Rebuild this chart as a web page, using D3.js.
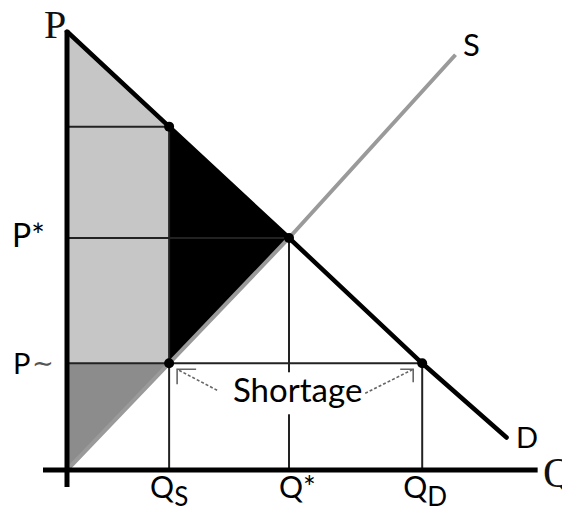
<!DOCTYPE html>
<html>
<head>
<meta charset="utf-8">
<script src="https://cdn.jsdelivr.net/npm/d3@7"></script>
<style>
  body { margin: 0; background: #fff; }
  svg { display: block; }
  .lbl { font-family: Lato, "Open Sans", sans-serif; fill: #000; }
  .serif { font-family: "Liberation Serif", "DejaVu Serif", serif; fill: #111; }
</style>
</head>
<body>
<div id="chart"></div>
<script>
// quantities and prices (arbitrary units 0..10)
var qS = 2.3, qStar = 5, qD = 8;
var pCeil = 2.3, pStar = 5, pDemandAtQs = 7.4, pMax = 9.45;

var demand = [[0, 9.45], [2.3, 7.4], [5, 5], [8, 2.3], [9.9, 0.7]];
var supply = [[0, 0], [2.3, 2.3], [5, 5], [8.75, 8.95]];

// key points marked with dots
var dots = [[qS, pDemandAtQs], [qStar, pStar], [qS, pCeil], [qD, pCeil]];

var width = 562, height = 508;

var svg = d3.select("#chart").append("svg")
  .attr("width", width)
  .attr("height", height);

var x = d3.scaleLinear().domain([0, 10]).range([67, 511]);
var y = d3.scaleLinear().domain([0, 10]).range([470, 6]);

var line = d3.line()
  .x(function(d) { return x(d[0]); })
  .y(function(d) { return y(d[1]); });

// shaded areas
// light grey: consumer surplus strip left of Qs
svg.append("path")
  .attr("d", line([[0, pMax], [qS, pDemandAtQs], [qS, pCeil], [0, pCeil]]) + "Z")
  .attr("fill", "#c6c6c6");
// dark grey: producer surplus under price ceiling
svg.append("path")
  .attr("d", line([[0, pCeil], [qS, pCeil], [0, 0]]) + "Z")
  .attr("fill", "#8c8c8c");
// black: deadweight loss
svg.append("path")
  .attr("d", line([[qS, pDemandAtQs], [qStar, pStar], [qS, pCeil]]) + "Z")
  .attr("fill", "#000");

// guide lines
var guides = [
  [[0, pDemandAtQs], [qS, pDemandAtQs]],
  [[0, pStar], [qStar, pStar]],
  [[0, pCeil], [qD, pCeil]],
  [[qS, pDemandAtQs], [qS, 0]],
  [[qStar, pStar], [qStar, 0]],
  [[qD, pCeil], [qD, 0]]
];
svg.selectAll(".guide")
  .data(guides)
  .enter().append("path")
    .attr("class", "guide")
    .attr("d", line)
    .attr("stroke", "#222")
    .attr("stroke-width", 2)
    .attr("fill", "none");

// supply and demand curves
svg.append("path")
  .attr("d", line(supply))
  .attr("stroke", "#9a9a9a")
  .attr("stroke-width", 4)
  .attr("fill", "none");

svg.append("path")
  .attr("d", line(demand))
  .attr("stroke", "#000")
  .attr("stroke-width", 4.5)
  .attr("stroke-linecap", "round")
  .attr("fill", "none");

// axes (plain lines, no ticks)
svg.append("line")
  .attr("x1", x(0)).attr("x2", x(0))
  .attr("y1", y(pMax) - 1).attr("y2", y(0) + 17)
  .attr("stroke", "#000").attr("stroke-width", 5);
svg.append("line")
  .attr("x1", x(0) - 24).attr("x2", x(10.6))
  .attr("y1", y(0)).attr("y2", y(0))
  .attr("stroke", "#000").attr("stroke-width", 5);

svg.selectAll(".dot")
  .data(dots)
  .enter().append("circle")
    .attr("class", "dot")
    .attr("cx", function(d) { return x(d[0]); })
    .attr("cy", function(d) { return y(d[1]); })
    .attr("r", 5)
    .attr("fill", "#000");

// Shortage label with arrows
var ly = y(pCeil);
svg.append("rect")
  .attr("x", (x(qS) + x(qD)) / 2 - 68)
  .attr("y", ly + 9)
  .attr("width", 136)
  .attr("height", 42)
  .attr("fill", "#fff");

svg.append("text")
  .attr("class", "lbl")
  .attr("x", (x(qS) + x(qD)) / 2 + 2)
  .attr("y", ly + 39)
  .attr("text-anchor", "middle")
  .attr("font-size", 33)
  .text("Shortage");

var arrows = [
  { tail: [x(qS) + 48, ly + 27], tip: [x(qS) + 8, ly + 6], h: [x(qS) + 27, ly + 6], v: [x(qS) + 8, ly + 21] },
  { tail: [x(qD) - 57, ly + 30], tip: [x(qD) - 9, ly + 6], h: [x(qD) - 22, ly + 6], v: [x(qD) - 9, ly + 19] }
];
var arr = svg.selectAll(".arrow")
  .data(arrows)
  .enter().append("g")
    .attr("class", "arrow")
    .attr("stroke", "#666")
    .attr("fill", "none");
arr.append("line")
  .attr("x1", function(d) { return d.tail[0]; })
  .attr("y1", function(d) { return d.tail[1]; })
  .attr("x2", function(d) { return d.tip[0]; })
  .attr("y2", function(d) { return d.tip[1]; })
  .attr("stroke-width", 1.6)
  .attr("stroke-dasharray", "3,2");
arr.append("polyline")
  .attr("points", function(d) { return [d.h, d.tip, d.v].map(function(p) { return p.join(","); }).join(" "); })
  .attr("stroke-width", 1.6);

// axis labels
svg.append("text").attr("class", "serif")
  .attr("x", 44).attr("y", 38).attr("font-size", 40).text("P");
svg.append("text").attr("class", "serif")
  .attr("x", 543).attr("y", 487).attr("font-size", 42).text("Q");

svg.append("text").attr("class", "lbl")
  .attr("x", 12).attr("y", y(pStar) + 9).attr("font-size", 32).text("P*");
svg.append("text").attr("class", "lbl")
  .attr("x", 13).attr("y", y(pCeil) + 11).attr("font-size", 29).text("P");
svg.append("text")
  .attr("x", 32).attr("y", y(pCeil) + 9)
  .attr("font-family", "DejaVu Sans, sans-serif")
  .attr("font-size", 26)
  .attr("fill", "#555")
  .text("\u223C");

svg.append("text").attr("class", "lbl")
  .attr("x", 463).attr("y", 56).attr("font-size", 31).text("S");
svg.append("text").attr("class", "lbl")
  .attr("x", 516).attr("y", 448).attr("font-size", 29).text("D");

// quantity labels with subscripts
var qLabels = [
  { q: qS, main: "Q", sub: "S" },
  { q: qStar, main: "Q*", sub: "" },
  { q: qD, main: "Q", sub: "D" }
];
var ql = svg.selectAll(".qlab")
  .data(qLabels)
  .enter().append("text")
    .attr("class", "lbl qlab")
    .attr("x", function(d) { return x(d.q) - (d.sub ? 19 : 10); })
    .attr("y", 498)
    .attr("font-size", 30);
ql.append("tspan").text(function(d) { return d.main; });
ql.append("tspan")
  .attr("dy", 8)
  .attr("font-size", 26)
  .text(function(d) { return d.sub; });
</script>
</body>
</html>
